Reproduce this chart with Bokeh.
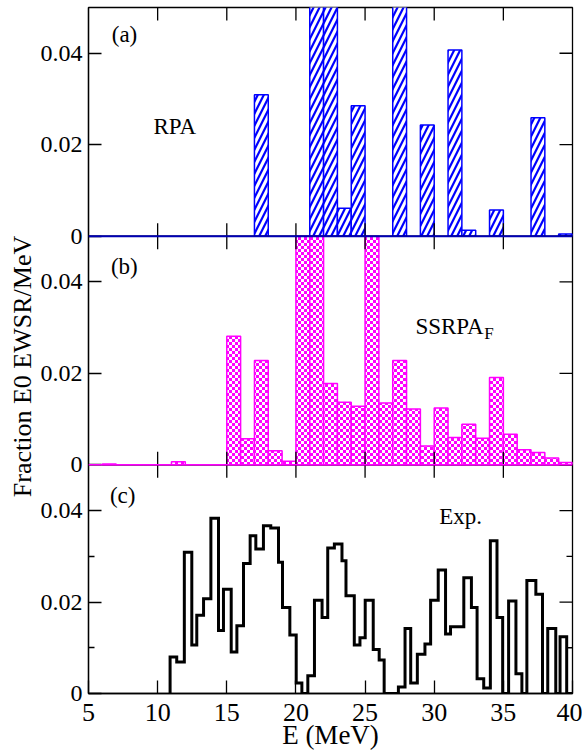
import numpy as np
from bokeh.plotting import figure
from bokeh.layouts import row
from bokeh.models import Range1d, LinearAxis, FixedTicker, Span, Label, CanvasTexture
from bokeh.core.properties import value
from bokeh.embed import file_html
from bokeh.resources import INLINE

# ---------------- data ----------------
# (a) RPA : 1 MeV bins, left edges and strength (fraction E0 EWSR / MeV)
rpa_left = [17, 21, 22, 23, 24, 27, 29, 31, 32, 34, 37, 39]
rpa_val = [0.0309, 0.056, 0.054, 0.0061, 0.0285, 0.055, 0.0243, 0.0407,
           0.0013, 0.0057, 0.0259, 0.0005]

# (b) SSRPA_F : 1 MeV bins
ssrpa_left = list(range(6, 40))
ssrpa_val = [0.0002, 0.0, 0.0, 0.0, 0.0, 0.0007, 0.0, 0.0, 0.0, 0.0281,
             0.0057, 0.0228, 0.0031, 0.0008, 0.056, 0.055, 0.0178, 0.0137,
             0.0128, 0.055, 0.0135, 0.0228, 0.0122, 0.0041, 0.0124, 0.0060,
             0.0089, 0.0058, 0.0191, 0.0067, 0.0033, 0.0027, 0.0015, 0.0005]
bin_width = 1.0

# (c) Experiment : histogram bin edges and values
exp_edges = [10.90, 11.38, 11.93, 12.47, 12.83, 13.32, 13.85, 14.40, 14.76,
             15.32, 15.73, 16.21, 16.69, 17.10, 17.65, 18.18, 18.74, 19.03,
             19.56, 20.02, 20.43, 20.86, 21.34, 21.89, 22.30, 22.78, 23.33,
             23.62, 24.22, 24.63, 25.01, 25.59, 26.02, 26.38, 26.90, 27.41,
             27.89, 28.30, 28.78, 29.33, 29.74, 30.29, 30.82, 31.18, 32.14,
             32.69, 33.10, 33.58, 34.06, 34.54, 34.95, 35.38, 35.91, 36.34,
             36.70, 37.35, 37.83, 38.21, 38.79, 39.10, 39.58, 40.00]
exp_val = [0.0080, 0.0069, 0.0309, 0.0106, 0.0171, 0.0207, 0.0383, 0.0138,
           0.0228, 0.0091, 0.0148, 0.0284, 0.0345, 0.0316, 0.0367, 0.0362,
           0.0287, 0.0188, 0.0128, 0.0023, 0.0000, 0.0039, 0.0204, 0.0166,
           0.0318, 0.0327, 0.0290, 0.0214, 0.0106, 0.0122, 0.0204, 0.0096,
           0.0073, 0.0000, 0.0000, 0.0014, 0.0142, 0.0023, 0.0086, 0.0108,
           0.0204, 0.0270, 0.0130, 0.0146, 0.0253, 0.0188, 0.0032, 0.0012,
           0.0334, 0.0166, 0.0000, 0.0202, 0.0043, 0.0000, 0.0247, 0.0217,
           0.0000, 0.0142, 0.0000, 0.0124, 0.0000]

x_ticks = [5, 10, 15, 20, 25, 30, 35, 40]
panel_ticks = [0.0, 0.02, 0.04]
panel_tick_labels = ["0", "0.02", "0.04"]
panel_minor = [0.01, 0.03]
panel_top = 0.05
panel_names = ["(a)", "(b)", "(c)"]
y_title = "Fraction E0 EWSR/MeV"
x_title = "E (MeV)"

FONT = "Liberation Serif"
TITLE_W = 37
FRAME_H = 686
TOP_B = 7
BOT_B = 59

# ---------------- main figure ----------------
p = figure(frame_width=484, frame_height=FRAME_H,
           min_border_left=48, min_border_right=10,
           min_border_top=TOP_B, min_border_bottom=BOT_B,
           x_range=Range1d(5, 40), y_range=Range1d(0, 3 * panel_top),
           x_axis_location=None, y_axis_location=None,
           output_backend="svg", toolbar_location=None)
p.xgrid.visible = False
p.ygrid.visible = False
p.outline_line_color = "black"
p.outline_line_width = 1.3
# panel (c) uses the default range, (b) and (a) are stacked above it
p.extra_y_ranges = {
    "b": Range1d(-panel_top, 2 * panel_top),
    "a": Range1d(-2 * panel_top, panel_top),
}

offsets = [0.0, panel_top, 2 * panel_top]
y_ticks = [round(t + o, 4) for o in offsets for t in panel_ticks]
y_over = {round(t + o, 4): lab for o in offsets
          for t, lab in zip(panel_ticks, panel_tick_labels)}
yt = FixedTicker(ticks=y_ticks, minor_ticks=panel_minor)
xt = FixedTicker(ticks=x_ticks, minor_ticks=[])


def style_axis(ax, size):
    ax.major_tick_in = 13
    ax.major_tick_out = 0
    ax.minor_tick_in = 6
    ax.minor_tick_out = 0
    ax.axis_line_color = "black"
    ax.axis_line_width = 1.3
    ax.major_tick_line_color = "black"
    ax.major_tick_line_width = 1.3
    ax.minor_tick_line_color = "black"
    ax.minor_tick_line_width = 1.3
    ax.major_label_text_font = FONT
    ax.major_label_text_font_size = size
    ax.major_label_text_color = "black"


left = LinearAxis(ticker=yt, major_label_overrides=y_over)
style_axis(left, "24px")
left.major_label_standoff = 6
p.add_layout(left, "left")

bottom = LinearAxis(ticker=xt, axis_label=x_title)
style_axis(bottom, "26px")
bottom.major_label_standoff = 10
bottom.axis_label_text_font = FONT
bottom.axis_label_text_font_size = "27px"
bottom.axis_label_text_font_style = "normal"
bottom.axis_label_text_color = "black"
bottom.axis_label_standoff = -4
p.add_layout(bottom, "below")

# ---------------- (a) RPA bars ----------------
rl = np.array(rpa_left, dtype=float)
p.quad(left=rl, right=rl + bin_width, bottom=0, top=np.array(rpa_val),
       y_range_name="a", fill_color="white", line_color="#0000ff",
       line_width=1.5, hatch_pattern=value("right_diagonal_line"),
       hatch_color="#0000ff", hatch_scale=12, hatch_weight=2.2)

# ---------------- (b) SSRPA_F bars ----------------
checker = CanvasTexture(code="""
const c = ctx.canvas;
c.width = 6;
c.height = 6;
ctx.setTransform(1, 0, 0, 1, 0, 0);
ctx.fillStyle = "#ffffff";
ctx.fillRect(0, 0, 6, 6);
ctx.fillStyle = "#ff00ff";
ctx.fillRect(0, 0, 3, 3);
ctx.fillRect(3, 3, 3, 3);
""")
sl = np.array(ssrpa_left, dtype=float)
p.quad(left=sl, right=sl + bin_width, bottom=0,
       top=np.minimum(np.array(ssrpa_val), panel_top),
       y_range_name="b", fill_color="white", line_color="#ff00ff",
       line_width=1.5, hatch_pattern=value("checker"),
       hatch_extra={"checker": checker}, hatch_color="#ff00ff",
       hatch_scale=6)

# ---------------- (c) experiment ----------------
ex = np.repeat(np.array(exp_edges), 2)
ey = np.concatenate([[0.0], np.repeat(np.array(exp_val), 2), [0.0]])
p.line(ex, ey, line_color="black", line_width=3, line_join="miter")

# ---------------- panel separators ----------------
for b in [panel_top, 2 * panel_top]:
    p.add_layout(Span(location=b, dimension="width", line_color="black",
                      line_width=1.3))
p.add_layout(Span(location=0, dimension="width", y_range_name="a",
                  line_color="#0000b4", line_width=2))
p.add_layout(Span(location=0, dimension="width", y_range_name="b",
                  line_color="#ff00ff", line_width=1.5))

# inward ticks on the panel boundaries, the top edge and the right edge
inner_x = [t for t in x_ticks if 5 < t < 40]
for b in [panel_top, 2 * panel_top, 3 * panel_top]:
    p.scatter(x=inner_x, y=[b] * len(inner_x), marker="dash",
              angle=np.pi / 2, size=26, line_color="black", line_width=1.3)
p.scatter(x=[40] * len(y_ticks), y=y_ticks, marker="dash", size=26,
          line_color="black", line_width=1.3)
p.scatter(x=[40] * len(panel_minor), y=panel_minor, marker="dash", size=12,
          line_color="black", line_width=1.3)

# ---------------- texts inside the panels ----------------
def lab(x, y, text, rng="default", size="23px", align="left",
        baseline="alphabetic"):
    kw = {} if rng == "default" else {"y_range_name": rng}
    p.add_layout(Label(x=x, y=y, text=text, text_font=FONT,
                       text_font_size=size, text_color="black",
                       text_align=align, text_baseline=baseline, **kw))


lab(6.68, 0.0442, panel_names[0], "a")
lab(6.62, 0.0433, panel_names[1], "b")
lab(6.55, 0.0433, panel_names[2])
lab(9.70, 0.0239, "RPA", "a")
lab(28.64, 0.0303, "SSRPA", "b")
lab(33.62, 0.0287, "F", "b", size="17px")
lab(30.36, 0.0388, "Exp.")

# ---------------- y title in its own narrow strip ----------------
t = figure(frame_width=TITLE_W, frame_height=FRAME_H,
           min_border_left=0, min_border_right=0,
           min_border_top=TOP_B, min_border_bottom=BOT_B,
           x_range=Range1d(0, TITLE_W), y_range=Range1d(0, 3 * panel_top),
           x_axis_location=None, y_axis_location=None,
           output_backend="svg", toolbar_location=None)
t.xgrid.visible = False
t.ygrid.visible = False
t.outline_line_color = None
t.text(x=[22], y=[0.0715], text=[y_title], angle=np.pi / 2,
       text_font=value(FONT), text_font_size="26px", text_color="black",
       text_align="center", text_baseline="middle")

layout = row(t, p)
open("out.html", "w").write(file_html(layout, INLINE))
